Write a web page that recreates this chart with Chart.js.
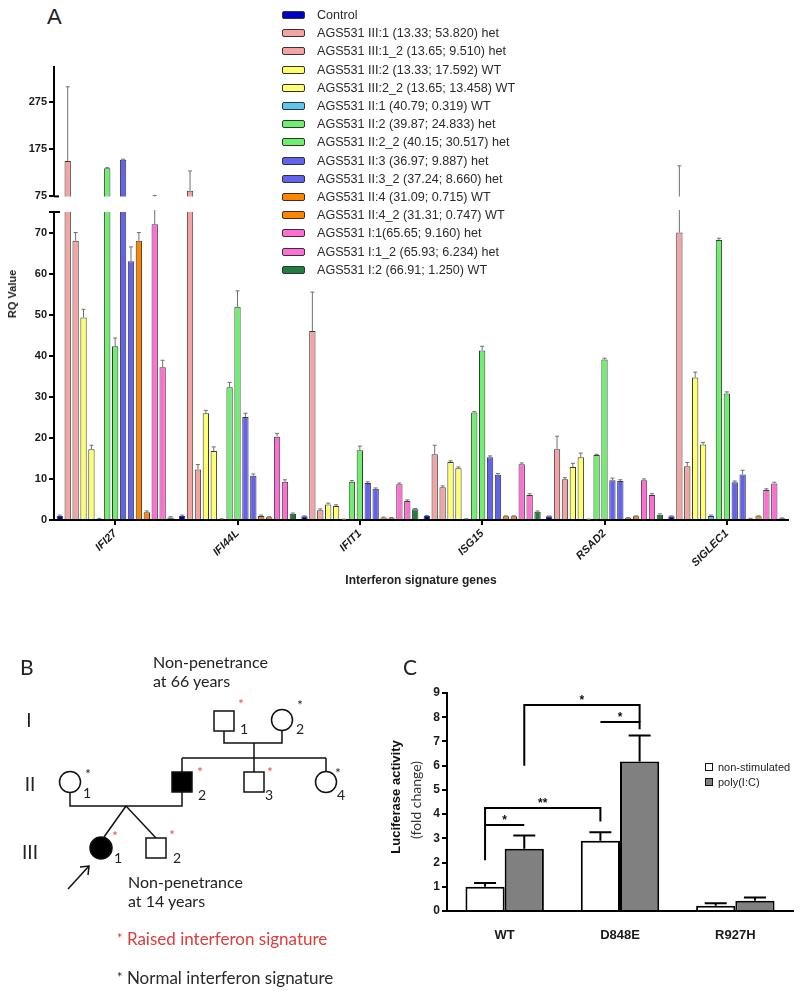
<!DOCTYPE html>
<html>
<head>
<meta charset="utf-8">
<script src="https://cdn.jsdelivr.net/npm/chart.js@4.4.1/dist/chart.umd.min.js"></script>
<style>
  body { margin: 0; background: #fff; }
  #page { position: relative; width: 800px; height: 991px; overflow: hidden; font-family: "Liberation Sans", Arial, sans-serif; color: #222; }
  .abs { position: absolute; }
  canvas { display: block; }
  .lrow { position: absolute; left: 0; height: 14px; line-height: 14px; white-space: nowrap; font-size: 12.6px; color: #2a2a2a; }
  .sw { position: absolute; left: 0; top: 3px; width: 21px; height: 6px; border: 1px solid #333; border-radius: 2px; }
  .lrow .tx { position: absolute; left: 35px; top: 0; }
  .crow { position: absolute; height: 12px; line-height: 12px; font-size: 11px; white-space: nowrap; color: #222; }
  .csw { position: absolute; left: 0; top: 2px; width: 6px; height: 6px; border: 1.5px solid #111; }
  .crow .tx { position: absolute; left: 13px; top: 0; }
</style>
</head>
<body>
<div id="page">
  <div class="abs" style="left:47px;top:4px;font-size:22px;">A</div>
  <div class="abs" style="left:0;top:55px;"><canvas id="upper" width="800" height="150"></canvas></div>
  <div class="abs" style="left:0;top:200px;"><canvas id="lower" width="800" height="385"></canvas></div>
  <div class="abs" style="left:12px;top:294px;transform:translate(-50%,-50%) rotate(-90deg);font-weight:bold;font-size:11px;white-space:nowrap;">RQ Value</div>
  <div class="abs" style="left:421px;top:580px;transform:translate(-50%,-50%);font-weight:bold;font-size:12px;white-space:nowrap;">Interferon signature genes</div>
  <div class="abs" id="legendA" style="left:282px;top:8px;"></div>

  <svg class="abs" style="left:0;top:0;" width="800" height="991" font-family="Lato, 'Noto Sans', sans-serif">
    <g stroke="#111" stroke-width="1.5" fill="none">
      <rect x="214" y="711" width="20" height="20" fill="#fff"/>
      <circle cx="282" cy="720" r="10.5" fill="#fff"/>
      <polyline points="224,731 224,743 282,743 282,730.5"/>
      <line x1="254" y1="743" x2="254" y2="758"/>
      <line x1="182" y1="758" x2="326" y2="758"/>
      <line x1="182" y1="758" x2="182" y2="772"/>
      <line x1="254" y1="758" x2="254" y2="772"/>
      <line x1="326" y1="758" x2="326" y2="771.5"/>
      <rect x="172" y="772" width="20" height="20" fill="#000"/>
      <rect x="244" y="772" width="20" height="20" fill="#fff"/>
      <circle cx="326" cy="782" r="10.5" fill="#fff"/>
      <circle cx="70" cy="782" r="10.5" fill="#fff"/>
      <polyline points="70,792.5 70,806 182,806 182,792"/>
      <line x1="126" y1="806" x2="104" y2="837"/>
      <line x1="126" y1="806" x2="156" y2="838"/>
      <circle cx="101" cy="848" r="11" fill="#000"/>
      <rect x="146" y="838" width="20" height="20" fill="#fff"/>
      <line x1="68" y1="889" x2="89" y2="866"/>
      <polyline points="80,867 89,866 88,875"/>
    </g>
    <g fill="#222">
      <text x="20" y="675" font-size="21">B</text>
      <text x="153" y="668" font-size="16">Non-penetrance</text>
      <text x="153" y="687" font-size="16">at 66 years</text>
      <text x="29" y="727" font-size="19" text-anchor="middle">I</text>
      <text x="30" y="791" font-size="19" text-anchor="middle">II</text>
      <text x="30" y="859" font-size="19" text-anchor="middle">III</text>
      <g font-size="14">
        <text x="240" y="734">1</text>
        <text x="296" y="734">2</text>
        <text x="83" y="798">1</text>
        <text x="198" y="800">2</text>
        <text x="265" y="800">3</text>
        <text x="337" y="800">4</text>
        <text x="114" y="863">1</text>
        <text x="173" y="863">2</text>
      </g>
      <text x="128" y="888" font-size="16">Non-penetrance</text>
      <text x="128" y="907" font-size="16">at 14 years</text>
      <g font-size="13" text-anchor="middle">
        <text x="241" y="709" fill="#e8474a">*</text>
        <text x="300" y="710">*</text>
        <text x="88" y="779">*</text>
        <text x="200" y="777" fill="#e8474a">*</text>
        <text x="270" y="777" fill="#e8474a">*</text>
        <text x="338" y="778">*</text>
        <text x="115" y="841" fill="#e8474a">*</text>
        <text x="172" y="840" fill="#e8474a">*</text>
      </g>
      <text x="117" y="945" font-size="17" fill="#e03a3a"><tspan font-size="13" dy="-2">*</tspan><tspan dy="2"> Raised interferon signature</tspan></text>
      <text x="117" y="984" font-size="17" fill="#2a2a2a"><tspan font-size="13" dy="-2">*</tspan><tspan dy="2"> Normal interferon signature</tspan></text>
      <text x="403" y="675" font-size="21">C</text>
    </g>
  </svg>

  <div class="abs" style="left:380px;top:680px;"><canvas id="luc" width="420" height="262"></canvas></div>
  <div class="abs" style="left:395px;top:797px;transform:translate(-50%,-50%) rotate(-90deg);font-weight:bold;font-size:13px;white-space:nowrap;color:#111;">Luciferase activity</div>
  <div class="abs" style="left:415px;top:800px;transform:translate(-50%,-50%) rotate(-90deg);font-family:Lato,sans-serif;font-size:14px;white-space:nowrap;color:#333;">(fold change)</div>
  <div class="abs" id="legendC" style="left:705px;top:761px;"></div>
</div>

<script>
Chart.defaults.font.family = '"Liberation Sans", Arial, sans-serif';
Chart.defaults.color = '#222';

// ---- panel A data ----
var genes = ['IFI27', 'IFI44L', 'IFIT1', 'ISG15', 'RSAD2', 'SIGLEC1'];
var upperTicks = [75, 175, 275];
var lowerTicks = [0, 10, 20, 30, 40, 50, 60, 70];

var seriesNames = [
  'Control',
  'AGS531 III:1 (13.33; 53.820) het',
  'AGS531 III:1_2 (13.65; 9.510) het',
  'AGS531 III:2 (13.33; 17.592) WT',
  'AGS531 III:2_2 (13.65; 13.458) WT',
  'AGS531 II:1 (40.79; 0.319) WT',
  'AGS531 II:2 (39.87; 24.833) het',
  'AGS531 II:2_2 (40.15; 30.517) het',
  'AGS531 II:3 (36.97; 9.887) het',
  'AGS531 II:3_2 (37.24; 8.660) het',
  'AGS531 II:4 (31.09; 0.715) WT',
  'AGS531 II:4_2 (31.31; 0.747) WT',
  'AGS531 I:1(65.65; 9.160) het',
  'AGS531 I:1_2 (65.93; 6.234) het',
  'AGS531 I:2 (66.91; 1.250) WT'
];
var seriesColors = ['#0000c4', '#f4a3a3', '#f4a3a3', '#ffff6e', '#ffff6e', '#5cc6ef',
  '#6ef06e', '#6ef06e', '#6262ec', '#6262ec', '#ff8400', '#ff8400', '#ff6ed2', '#ff6ed2', '#1e7e3e'];

var control = [1.0, 1.0, 0.9, 1.0, 0.9, 0.9];
var iii1    = [150, 87, 46, 16.0, 17.2, 70];
var iii1_2  = [68, 12.3, 2.4, 8.0, 9.9, 13.1];
var iii2    = [49.3, 26, 3.8, 14.1, 12.9, 34.7];
var iii2_2  = [17.2, 16.8, 3.4, 12.6, 15.3, 18.4];
var ii1     = [0.3, 0.2, 0.1, 0.2, 0.1, 1.0];
var ii2     = [135, 32.3, 9.3, 26.2, 15.8, 68.2];
var ii2_2   = [42.3, 51.9, 17.0, 41.3, 39.1, 30.8];
var ii3     = [153, 25.1, 9.0, 15.3, 9.7, 9.2];
var ii3_2   = [63, 10.8, 7.6, 11.0, 9.5, 11.1];
var ii4     = [68, 1.0, 0.6, 0.9, 0.5, 0.3];
var ii4_2   = [1.9, 0.7, 0.5, 0.9, 0.9, 0.9];
var i1      = [72, 20.3, 8.7, 13.6, 9.7, 7.3];
var i1_2    = [37.2, 9.3, 4.6, 6.1, 6.1, 8.9];
var i2      = [0.6, 1.5, 2.6, 2.0, 1.3, 0.4];

var control_err = [0.2, 0.2, 0.1, 0.1, 0.1, 0.1];
var iii1_err    = [158, 42, 9.5, 2.2, 3.2, 70];
var iii1_2_err  = [2, 1.2, 0.3, 0.3, 0.4, 0.9];
var iii2_err    = [2, 0.7, 0.3, 0.3, 0.9, 1.3];
var iii2_2_err  = [1, 1.0, 0.3, 0.3, 1.0, 0.5];
var ii1_err     = [0.1, 0.1, 0.1, 0.1, 0.1, 0.2];
var ii2_err     = [1, 1.2, 0.3, 0.2, 0.2, 0.4];
var ii2_2_err   = [2, 3.9, 1.0, 1.0, 0.3, 0.4];
var ii3_err     = [1, 0.9, 0.3, 0.3, 0.5, 0.3];
var ii3_2_err   = [3.5, 0.4, 0.2, 0.3, 0.3, 1.0];
var ii4_err     = [2, 0.2, 0.1, 0.1, 0.1, 0.1];
var ii4_2_err   = [0.3, 0.1, 0.1, 0.1, 0.1, 0.1];
var i1_err      = [5, 0.8, 0.3, 0.3, 0.3, 0.3];
var i1_2_err    = [1.7, 0.5, 0.3, 0.3, 0.3, 0.3];
var i2_err      = [0.2, 0.2, 0.2, 0.2, 0.2, 0.1];

var seriesValues = [control, iii1, iii1_2, iii2, iii2_2, ii1, ii2, ii2_2, ii3, ii3_2, ii4, ii4_2, i1, i1_2, i2];
var seriesErrors = [control_err, iii1_err, iii1_2_err, iii2_err, iii2_2_err, ii1_err, ii2_err, ii2_2_err,
  ii3_err, ii3_2_err, ii4_err, ii4_2_err, i1_err, i1_2_err, i2_err];

// ---- panel C data ----
var variants = ['WT', 'D848E', 'R927H'];
var nonStim = [1.0, 2.9, 0.22];
var nonStimErr = [0.16, 0.35, 0.1];
var polyIC = [2.57, 6.17, 0.42];
var polyICErr = [0.55, 1.08, 0.14];
var lucTicks = [0, 1, 2, 3, 4, 5, 6, 7, 8, 9];
// [dataset, index, value] for each end, level = height of the bar
var sigBrackets = [
  { label: '*',  from: [0, 0, 2.1],  to: [1, 0, 3.55], level: 3.55 },
  { label: '**', from: [0, 0, 3.55], to: [0, 1, 3.7],  level: 4.25 },
  { label: '*',  from: [1, 0, 6.0],  to: [1, 1, 7.8],  level: 8.5 },
  { label: '*',  from: [0, 1, 7.8],  to: [1, 1, 7.5],  level: 7.8 }
];

// ---- plugins ----
var errorBarPlugin = {
  id: 'errorBars',
  afterDatasetsDraw: function(chart, args, opts) {
    var ctx = chart.ctx, area = chart.chartArea, y = chart.scales.y;
    ctx.save();
    ctx.beginPath();
    ctx.rect(area.left, area.top - 2, area.right - area.left, area.bottom - area.top + 2);
    ctx.clip();
    ctx.strokeStyle = opts.color;
    ctx.lineWidth = opts.width;
    chart.data.datasets.forEach(function(ds, i) {
      var meta = chart.getDatasetMeta(i);
      meta.data.forEach(function(bar, j) {
        var e = ds.errors[j];
        if (!e) return;
        var yTop = y.getPixelForValue(ds.data[j] + e);
        var yBar = y.getPixelForValue(ds.data[j]);
        ctx.beginPath();
        ctx.moveTo(bar.x, yBar);
        ctx.lineTo(bar.x, yTop);
        ctx.moveTo(bar.x - opts.cap, yTop);
        ctx.lineTo(bar.x + opts.cap, yTop);
        ctx.stroke();
      });
    });
    ctx.restore();
  }
};

var breakPlugin = {
  id: 'axisBreak',
  afterDraw: function(chart, args, opts) {
    var y = chart.scales.y, ctx = chart.ctx;
    var py = y.getPixelForValue(opts.at);
    ctx.save();
    ctx.strokeStyle = '#000';
    ctx.lineWidth = 2;
    ctx.beginPath();
    ctx.moveTo(y.right - opts.left, py);
    ctx.lineTo(y.right + opts.right, py);
    ctx.stroke();
    ctx.restore();
  }
};

var bracketPlugin = {
  id: 'sigBrackets',
  afterDatasetsDraw: function(chart, args, opts) {
    var ctx = chart.ctx, y = chart.scales.y;
    ctx.save();
    ctx.strokeStyle = '#000';
    ctx.fillStyle = '#111';
    ctx.lineWidth = 2;
    ctx.font = 'bold 12px "Liberation Sans", Arial, sans-serif';
    ctx.textAlign = 'center';
    ctx.textBaseline = 'alphabetic';
    opts.items.forEach(function(b) {
      var x1 = chart.getDatasetMeta(b.from[0]).data[b.from[1]].x;
      var x2 = chart.getDatasetMeta(b.to[0]).data[b.to[1]].x;
      var yl = y.getPixelForValue(b.level);
      ctx.beginPath();
      ctx.moveTo(x1, y.getPixelForValue(b.from[2]));
      ctx.lineTo(x1, yl);
      ctx.lineTo(x2, yl);
      ctx.lineTo(x2, y.getPixelForValue(b.to[2]));
      ctx.stroke();
      ctx.fillText(b.label, (x1 + x2) / 2, yl - 1);
    });
    ctx.restore();
  }
};

// ---- panel A charts (broken axis = two stacked charts) ----
function geneDatasets() {
  return seriesNames.map(function(name, i) {
    return {
      label: name,
      data: seriesValues[i],
      errors: seriesErrors[i],
      backgroundColor: seriesColors[i],
      borderColor: '#3a3a3a',
      borderWidth: 1,
      barPercentage: 0.8,
      categoryPercentage: 0.97,
      clip: 0
    };
  });
}

function yScale(min, max, ticks) {
  return {
    min: min, max: max,
    afterBuildTicks: function(s) { s.ticks = ticks.map(function(v) { return { value: v }; }); },
    afterFit: function(s) { s.width = 54; },
    border: { display: true, color: '#000', width: 2 },
    grid: { drawOnChartArea: false, drawTicks: true, tickLength: 5, color: '#000', lineWidth: 2 },
    ticks: { font: { size: 11, weight: 'bold' }, color: '#1a1a1a', padding: 2 }
  };
}

new Chart(document.getElementById('upper'), {
  type: 'bar',
  data: { labels: genes, datasets: geneDatasets() },
  options: {
    responsive: false, animation: false,
    layout: { padding: { top: 12, bottom: 6, left: 0, right: 12 } },
    plugins: {
      legend: { display: false }, tooltip: { enabled: false },
      errorBars: { color: '#707070', width: 1, cap: 2 },
      axisBreak: { at: 75, left: 0, right: 5 }
    },
    scales: {
      x: { display: false },
      y: yScale(75, 350, upperTicks)
    }
  },
  plugins: [errorBarPlugin, breakPlugin]
});

new Chart(document.getElementById('lower'), {
  type: 'bar',
  data: { labels: genes, datasets: geneDatasets() },
  options: {
    responsive: false, animation: false,
    layout: { padding: { top: 12, bottom: 0, left: 0, right: 12 } },
    plugins: {
      legend: { display: false }, tooltip: { enabled: false },
      errorBars: { color: '#707070', width: 1, cap: 2 },
      axisBreak: { at: 75, left: 5, right: 6 }
    },
    scales: {
      x: {
        afterFit: function(s) { s.height = 65; },
        border: { display: true, color: '#000', width: 2 },
        grid: { drawOnChartArea: false, offset: false, drawTicks: true, tickLength: 5, color: '#000', lineWidth: 2 },
        ticks: { minRotation: 45, maxRotation: 45, autoSkip: false, padding: 2, color: '#1a1a1a',
          font: { size: 11, weight: 'bold', style: 'italic' } }
      },
      y: yScale(0, 75, lowerTicks)
    }
  },
  plugins: [errorBarPlugin, breakPlugin]
});

// legend A (html, sits over the upper plot like in the figure)
var legA = document.getElementById('legendA');
seriesNames.forEach(function(name, i) {
  var row = document.createElement('div');
  row.className = 'lrow';
  row.style.top = (i * 18.2) + 'px';
  row.innerHTML = '<span class="sw" style="background:' + seriesColors[i] + '"></span><span class="tx">' + name + '</span>';
  legA.appendChild(row);
});

// ---- panel C chart ----
var lucNames = ['non-stimulated', 'poly(I:C)'];
var lucColors = ['#ffffff', '#808080'];

new Chart(document.getElementById('luc'), {
  type: 'bar',
  data: {
    labels: variants,
    datasets: [
      { label: lucNames[0], data: nonStim, errors: nonStimErr, backgroundColor: lucColors[0],
        borderColor: '#000', borderWidth: 2, barPercentage: 1, categoryPercentage: 0.68, clip: 0 },
      { label: lucNames[1], data: polyIC, errors: polyICErr, backgroundColor: lucColors[1],
        borderColor: '#000', borderWidth: 2, barPercentage: 1, categoryPercentage: 0.68, clip: 0 }
    ]
  },
  options: {
    responsive: false, animation: false,
    layout: { padding: { top: 13, bottom: 0, left: 0, right: 7 } },
    plugins: {
      legend: { display: false }, tooltip: { enabled: false },
      errorBars: { color: '#000', width: 2, cap: 11 },
      sigBrackets: { items: sigBrackets }
    },
    scales: {
      x: {
        afterFit: function(s) { s.height = 31; },
        border: { display: true, color: '#000', width: 2 },
        grid: { display: false },
        ticks: { font: { size: 13, weight: 'bold' }, color: '#1a1a1a', padding: 9 }
      },
      y: {
        min: 0, max: 9,
        afterBuildTicks: function(s) { s.ticks = lucTicks.map(function(v) { return { value: v }; }); },
        afterFit: function(s) { s.width = 67; },
        border: { display: true, color: '#000', width: 2 },
        grid: { drawOnChartArea: false, drawTicks: true, tickLength: 5, color: '#000', lineWidth: 2 },
        ticks: { font: { size: 12, weight: 'bold' }, color: '#1a1a1a', padding: 2 }
      }
    }
  },
  plugins: [errorBarPlugin, bracketPlugin]
});

var legC = document.getElementById('legendC');
lucNames.forEach(function(name, i) {
  var row = document.createElement('div');
  row.className = 'crow';
  row.style.top = (i * 15) + 'px';
  row.innerHTML = '<span class="csw" style="background:' + lucColors[i] + '"></span><span class="tx">' + name + '</span>';
  legC.appendChild(row);
});
</script>
</body>
</html>
